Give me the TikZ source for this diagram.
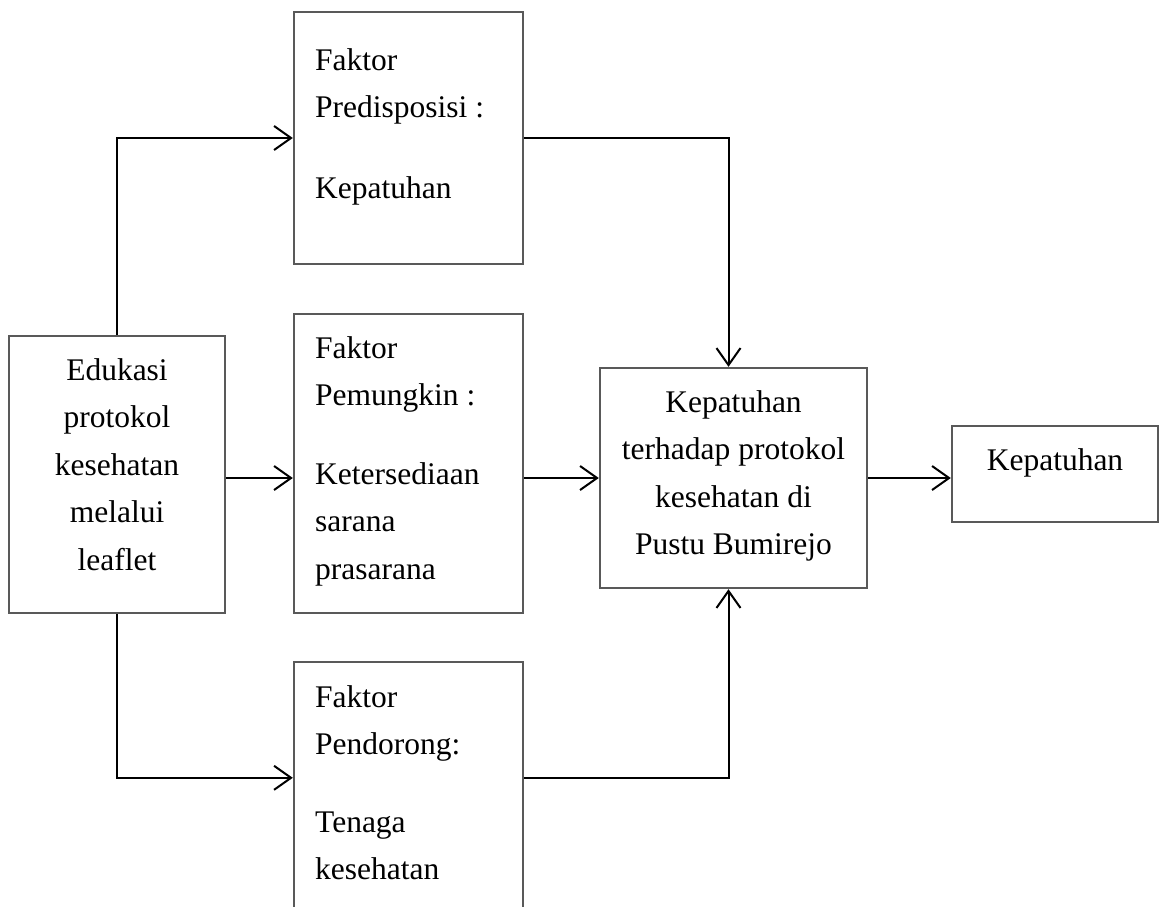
\documentclass[tikz,border=0pt]{standalone}
\usepackage{fontspec}
\setmainfont{Liberation Serif}
\usetikzlibrary{arrows.meta}
\tikzset{
  kotak/.style={draw=black!65,line width=2.4pt,inner sep=0pt},
  teks/.style={inner sep=0pt,font=\fontsize{31.5}{47.5}\selectfont},
  panah/.style={-{Straight Barb[length=17pt,width=24pt]},line width=2pt}
}
\begin{document}
\begin{tikzpicture}[x=1pt,y=-1pt]
      \useasboundingbox (0,0) rectangle (1160,906);
      \clip (0,0) rectangle (1160,906);
      \node[kotak,minimum width=216pt,minimum height=277pt] (edukasi) at (117,474.5) {};
      \node[kotak,minimum width=229pt,minimum height=252pt] (predisposisi) at (408.5,138) {};
      \node[kotak,minimum width=229pt,minimum height=299pt] (pemungkin) at (408.5,463.5) {};
      \node[kotak,minimum width=229pt,minimum height=300pt] (pendorong) at (408.5,812) {};
      \node[kotak,minimum width=267pt,minimum height=220pt] (pusat) at (733.5,478) {};
      \node[kotak,minimum width=206pt,minimum height=96pt] (hasil) at (1055,474) {};
      \node[teks,align=center,anchor=north] (edukasiTeks) at (117,358)
        {Edukasi\\protokol\\kesehatan\\melalui\\leaflet};
      \node[teks,align=left,anchor=north west] (predisposisiTeks) at (315,48)
        {Faktor\\Predisposisi :\\[33pt]Kepatuhan};
      \node[teks,align=left,anchor=north west] (pemungkinTeks) at (315,336)
        {Faktor\\Pemungkin :\\[31pt]Ketersediaan\\sarana\\prasarana};
      \node[teks,align=left,anchor=north west] (pendorongTeks) at (315,685)
        {Faktor\\Pendorong:\\[30pt]Tenaga\\kesehatan};
      \node[teks,align=center,anchor=north] (pusatTeks) at (733.5,390)
        {Kepatuhan\\terhadap protokol\\kesehatan di\\Pustu Bumirejo};
      \node[teks,anchor=north] (hasilTeks) at (1055,448) {Kepatuhan};
      \begin{scope}[panah]
        \draw (edukasi.north) |- (predisposisi.west);
        \draw (edukasi.east |- pusat.west) -- (pemungkin.west |- pusat.west);
        \draw (edukasi.south) |- ([yshift=-117pt]pendorong.north west);
        \draw (predisposisi.east) -| ([xshift=-5pt]pusat.north);
        \draw (pemungkin.east |- pusat.west) -- (pusat.west);
        \draw ([yshift=-117pt]pendorong.north east) -| ([xshift=-5pt]pusat.south);
        \draw (pusat.east) -- (hasil.west |- pusat.east);
      \end{scope}
    \end{tikzpicture}
\end{document}
